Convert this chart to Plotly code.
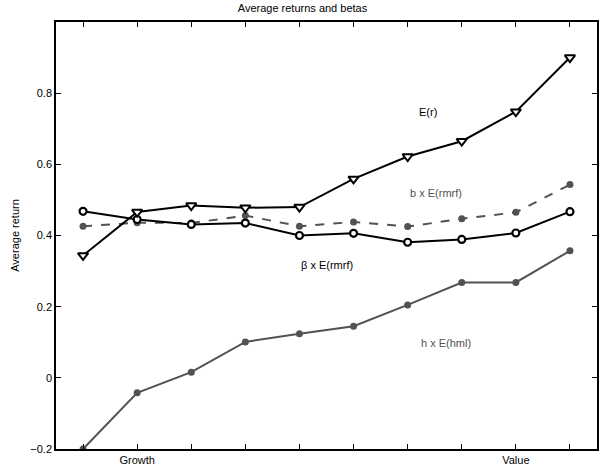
import plotly.graph_objects as go

# portfolios 1..10, growth -> value
portfolio = [1, 2, 3, 4, 5, 6, 7, 8, 9, 10]
er = [0.344, 0.466, 0.484, 0.478, 0.480, 0.559, 0.622, 0.665, 0.748, 0.900]
beta_rmrf = [0.468, 0.445, 0.431, 0.435, 0.400, 0.406, 0.381, 0.389, 0.407, 0.467]
b_rmrf = [0.426, 0.436, 0.435, 0.456, 0.426, 0.438, 0.425, 0.447, 0.465, 0.543]
h_hml = [-0.200, -0.042, 0.016, 0.101, 0.124, 0.145, 0.205, 0.268, 0.268, 0.357]
x_labels = ["", "Growth", "", "", "", "", "", "", "Value", ""]

gray = "#525252"
fig = go.Figure()

fig.add_trace(go.Scatter(
    x=portfolio, y=h_hml, mode="lines+markers",
    line=dict(color=gray, width=2),
    marker=dict(color=gray, size=7, symbol="circle")
))
fig.add_trace(go.Scatter(
    x=portfolio, y=b_rmrf, mode="lines+markers",
    line=dict(color=gray, width=2, dash="dash"),
    marker=dict(color=gray, size=7, symbol="circle")
))
fig.add_trace(go.Scatter(
    x=portfolio, y=beta_rmrf, mode="lines+markers",
    line=dict(color="black", width=2),
    marker=dict(color="white", size=7, symbol="circle",
                line=dict(color="black", width=2.2))
))
fig.add_trace(go.Scatter(
    x=portfolio, y=er, mode="lines+markers",
    line=dict(color="black", width=2),
    marker=dict(color="white", size=9, symbol="triangle-down",
                line=dict(color="black", width=2))
))

labels = [
    (7.37, 0.746, "E(r)", "black"),
    (7.53, 0.519, "b x E(rmrf)", gray),
    (5.51, 0.316, "β x E(rmrf)", "black"),
    (7.70, 0.099, "h x E(hml)", gray),
]
for lx, ly, txt, col in labels:
    fig.add_annotation(x=lx, y=ly, text=txt, showarrow=False,
                       font=dict(size=11, color=col))

fig.update_layout(
    width=605, height=473,
    margin=dict(l=56, r=8, t=22, b=24),
    paper_bgcolor="white", plot_bgcolor="white",
    showlegend=False,
    font=dict(family="Liberation Sans, Arial, sans-serif", size=11, color="black"),
    title=dict(text="Average returns and betas", x=0.5, xanchor="center",
               y=1 - 8 / 473, yanchor="middle", font=dict(size=11)),
)
fig.update_xaxes(
    range=[0.5, 10.5], tickmode="array", tickvals=portfolio, ticktext=x_labels,
    ticks="inside", ticklen=5, tickcolor="black", showline=True, linecolor="black",
    linewidth=1.5, mirror="ticks", showgrid=False, zeroline=False, automargin=False
)
fig.update_yaxes(
    range=[-0.2, 1.0], tickvals=[-0.2, 0, 0.2, 0.4, 0.6, 0.8],
    ticktext=["−0.2", "0", "0.2", "0.4", "0.6", "0.8"],
    ticks="inside", ticklen=5, tickcolor="black", showline=True, linecolor="black",
    linewidth=1.5, mirror="ticks", showgrid=False, zeroline=False, automargin=False,
    title=dict(text="Average return", standoff=8, font=dict(size=11))
)

# drop the page's default body margin so the figure sits at the window corner
fig.write_html("out.html", config={"displayModeBar": False},
               post_script="document.body.style.margin='0';")
